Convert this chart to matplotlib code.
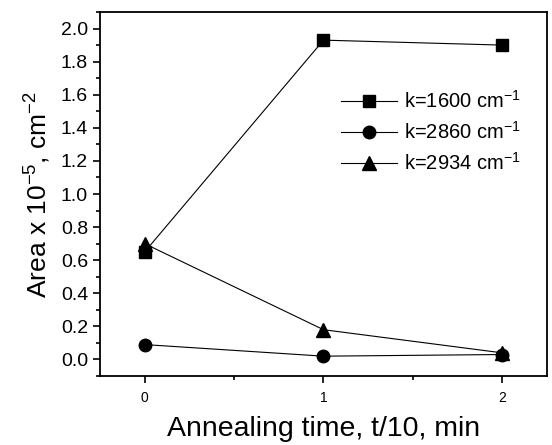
import matplotlib
matplotlib.use("Agg")
import matplotlib.pyplot as plt
from matplotlib.ticker import MultipleLocator

plt.rcParams['font.family'] = ['Liberation Sans', 'DejaVu Sans']
plt.rcParams['mathtext.default'] = 'regular'
plt.rcParams['axes.unicode_minus'] = False

# data
anneal_time = [0, 1, 2]
k1600 = [0.65, 1.93, 1.90]
k2860 = [0.09, 0.02, 0.03]
k2934 = [0.70, 0.18, 0.04]

fig = plt.figure(figsize=(5.52, 4.45), dpi=100)
ax = fig.add_axes([0.181, 0.155, 0.810, 0.818])

ax.plot(anneal_time, k1600, '-s', color='black', lw=0.8, ms=9, label='k=1600 cm$^{-1}$')
ax.plot(anneal_time, k2860, '-o', color='black', lw=0.8, ms=9, label='k=2860 cm$^{-1}$')
ax.plot(anneal_time, k2934, '-^', color='black', lw=0.8, ms=10, label='k=2934 cm$^{-1}$')

ax.set_xlim(-0.25, 2.25)
ax.set_ylim(-0.1, 2.1)
ax.xaxis.set_major_locator(MultipleLocator(1))
ax.xaxis.set_minor_locator(MultipleLocator(0.5))
ax.yaxis.set_major_locator(MultipleLocator(0.2))
ax.yaxis.set_minor_locator(MultipleLocator(0.1))
ax.yaxis.set_major_formatter(plt.FuncFormatter(lambda v, p: f'{v:.1f}'))
ax.tick_params(which='both', direction='out', width=1.2)
ax.tick_params(which='major', length=5)
ax.tick_params(which='minor', length=3)
ax.tick_params(axis='x', labelsize=10, pad=6)
ax.tick_params(axis='y', labelsize=14)
for s in ax.spines.values():
    s.set_linewidth(1.3)

ax.set_xlabel('Annealing time, t/10, min', fontsize=20.5, labelpad=8)
ax.set_ylabel('Area x 10$^{-5}$, cm$^{-2}$', fontsize=19, labelpad=6)

ax.legend(loc='upper right', bbox_to_anchor=(0.982, 0.835), frameon=False,
          fontsize=14.5, handlelength=2.8, handletextpad=0.35, labelspacing=0.45)

fig.savefig('out.png', dpi=100)
